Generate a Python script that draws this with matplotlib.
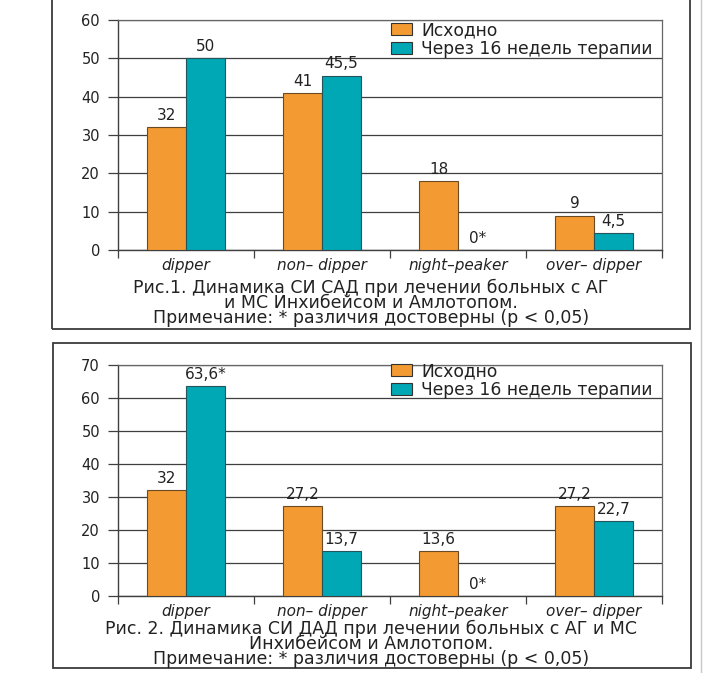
import matplotlib.pyplot as plt
import numpy as np
from matplotlib.patches import Rectangle, Patch
from matplotlib.lines import Line2D

plt.rcParams['font.family'] = ['DejaVu Sans']

# Data
categories = ['dipper', 'non– dipper', 'night–peaker', 'over– dipper']
series_names = ['Исходно', 'Через 16 недель терапии']

sad_before = [32, 41, 18, 9]
sad_after = [50, 45.5, 0, 4.5]
sad_after_marks = ['', '', '*', '']

dad_before = [32, 27.2, 13.6, 27.2]
dad_after = [63.6, 13.7, 0, 22.7]
dad_after_marks = ['*', '', '*', '']

captions1 = ['Рис.1. Динамика СИ САД при лечении больных с АГ',
             'и МС Инхибейсом и Амлотопом.',
             'Примечание: * различия достоверны (р < 0,05)']
captions2 = ['Рис. 2. Динамика СИ ДАД при лечении больных с АГ и МС',
             'Инхибейсом и Амлотопом.',
             'Примечание: * различия достоверны (р < 0,05)']

ORANGE = '#F39A32'
TEAL = '#00A7B5'
GRID = '#3f3f3f'
TXT = '#222222'
W, H = 703, 673

fig = plt.figure(figsize=(W / 100, H / 100), dpi=100)


def px_box(left, top, right, bottom):
    return [left / W, 1 - bottom / H, (right - left) / W, (bottom - top) / H]


def fmt(v):
    return f'{v:g}'.replace('.', ',')


def draw_panel(ax, before, after, marks, ymax, legend_top):
    x = np.arange(len(categories))
    w = 0.285
    b1 = ax.bar(x - w / 2, before, w, color=ORANGE, edgecolor='#6b4a26', lw=0.8, zorder=3)
    b2 = ax.bar(x + w / 2, after, w, color=TEAL, edgecolor='#24555c', lw=0.8, zorder=3)
    for bars, vals, mk in [(b1, before, [''] * 4), (b2, after, marks)]:
        for rect, v, m in zip(bars, vals, mk):
            ax.annotate(fmt(v) + m, (rect.get_x() + rect.get_width() / 2, v),
                        xytext=(0, 3), textcoords='offset points',
                        ha='center', va='bottom', fontsize=11, color=TXT)

    ax.set_xlim(-0.5, 3.5)
    ax.set_ylim(0, ymax)
    ax.set_yticks(range(0, ymax + 1, 10))
    ax.yaxis.grid(True, color=GRID, lw=0.9)
    ax.set_axisbelow(True)

    # boundary ticks on the category axis, labels at the centres
    ax.set_xticks(np.arange(-0.5, 4, 1))
    ax.set_xticklabels([])
    ax.set_xticks(x, minor=True)
    ax.set_xticklabels(categories, minor=True, style='italic', fontsize=11, color=TXT)
    ax.tick_params(axis='x', which='major', length=6, width=0.9, color=GRID)
    ax.tick_params(axis='x', which='minor', length=0, pad=6)
    ax.tick_params(axis='y', length=7, width=0.9, pad=6, labelsize=10.5,
                   color=GRID, labelcolor=TXT)

    for s in ['left', 'bottom']:
        ax.spines[s].set_color(GRID)
        ax.spines[s].set_linewidth(1.0)
    ax.spines['right'].set_color('#666666')
    ax.spines['right'].set_linewidth(0.9)
    ax.spines['top'].set_color('#666666')
    ax.spines['top'].set_linewidth(0.9)

    handles = [Patch(facecolor=ORANGE, edgecolor='#333333', lw=0.8, label=series_names[0]),
               Patch(facecolor=TEAL, edgecolor='#333333', lw=0.8, label=series_names[1])]
    ax.legend(handles=handles, loc='upper left', frameon=False, fontsize=12.3,
              bbox_to_anchor=(391 / W, 1 - legend_top / H), bbox_transform=fig.transFigure,
              borderaxespad=0, borderpad=0, handlelength=1.25, handleheight=0.65,
              handletextpad=0.5, labelspacing=0.05, labelcolor=TXT)


ax1 = fig.add_axes(px_box(118, 20, 662, 250))
draw_panel(ax1, sad_before, sad_after, sad_after_marks, 60, 21)

ax2 = fig.add_axes(px_box(118, 365, 662, 596))
draw_panel(ax2, dad_before, dad_after, dad_after_marks, 70, 362)

# captions under each chart, one text block each
for lines, yc in [(captions1, 303), (captions2, 644)]:
    fig.text(371 / W, 1 - yc / H, '\n'.join(lines), ha='center', va='center',
             fontsize=12.5, linespacing=0.8, color=TXT)

# panel frames and the page edge
fig.add_artist(Rectangle((52 / W, 1 - 329 / H), 638 / W, 340 / H, transform=fig.transFigure,
                         fill=False, edgecolor='#3a3a3a', lw=1.3))
fig.add_artist(Rectangle((53 / W, 1 - 668 / H), 638 / W, 325 / H, transform=fig.transFigure,
                         fill=False, edgecolor='#3a3a3a', lw=1.3))
fig.add_artist(Line2D([701 / W, 701 / W], [0, 1], transform=fig.transFigure,
                      color='#c8c8c8', lw=1.0))

fig.savefig('out.png', dpi=100)
